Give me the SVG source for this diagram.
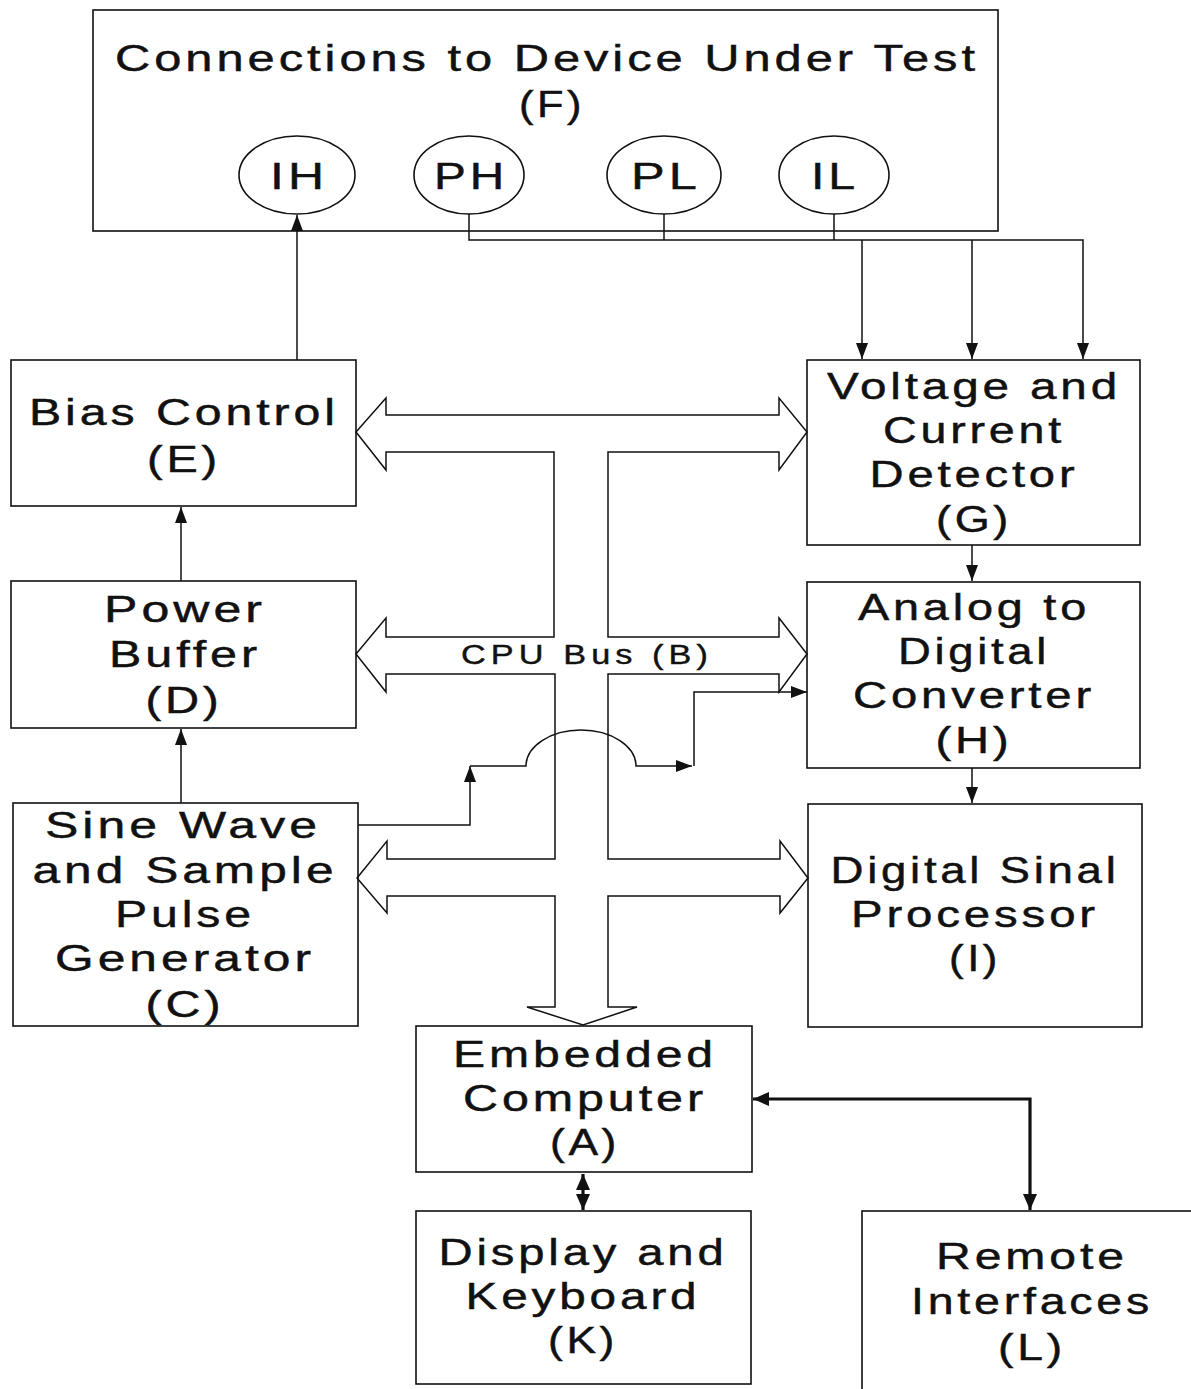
<svg xmlns="http://www.w3.org/2000/svg" width="1191" height="1389" viewBox="0 0 1191 1389">
<defs>
<style>
.box{fill:#fff;stroke:#111;stroke-width:1.6}
.t{font-family:"Liberation Sans",Arial,sans-serif;font-size:37px;letter-spacing:3px;fill:#111;stroke:#111;stroke-width:0.45;text-anchor:middle}
.bus{font-size:27px;letter-spacing:4px;stroke-width:0.4}
.ln{fill:none;stroke:#111;stroke-width:1.5}
.thick{fill:none;stroke:#111;stroke-width:3.2}
</style>
<marker id="ah" markerUnits="userSpaceOnUse" markerWidth="16" markerHeight="12" refX="16" refY="6" orient="auto-start-reverse">
<path d="M0,0 L16,6 L0,12 z" fill="#111"/>
</marker>
<marker id="ahb" markerUnits="userSpaceOnUse" markerWidth="16" markerHeight="14" refX="16" refY="7" orient="auto-start-reverse">
<path d="M0,0 L16,7 L0,14 z" fill="#111"/>
</marker>
</defs>
<rect width="1191" height="1389" fill="#fff"/>

<g id="F">
<rect class="box" x="93" y="10" width="905" height="221"/>
<text class="t" x="547" y="71" textLength="864" lengthAdjust="spacingAndGlyphs">Connections to Device Under Test</text>
<text class="t" x="552" y="117" textLength="66" lengthAdjust="spacingAndGlyphs">(F)</text>
</g>
<g id="IH"><ellipse class="box" cx="297" cy="175" rx="58" ry="39"/><text class="t" x="299" y="189" textLength="58" lengthAdjust="spacingAndGlyphs">IH</text></g>
<g id="PH"><ellipse class="box" cx="469" cy="175" rx="55" ry="39"/><text class="t" x="471" y="189" textLength="74" lengthAdjust="spacingAndGlyphs">PH</text></g>
<g id="PL"><ellipse class="box" cx="664" cy="175" rx="57" ry="39"/><text class="t" x="666" y="189" textLength="70" lengthAdjust="spacingAndGlyphs">PL</text></g>
<g id="IL"><ellipse class="box" cx="834" cy="175" rx="55" ry="39"/><text class="t" x="835" y="189" textLength="48" lengthAdjust="spacingAndGlyphs">IL</text></g>

<g id="E">
<rect class="box" x="11" y="360" width="345" height="146"/>
<text class="t" x="184" y="425" textLength="310" lengthAdjust="spacingAndGlyphs">Bias Control</text>
<text class="t" x="184" y="472" textLength="74" lengthAdjust="spacingAndGlyphs">(E)</text>
</g>
<g id="D">
<rect class="box" x="11" y="581" width="345" height="147"/>
<text class="t" x="185" y="622" textLength="162" lengthAdjust="spacingAndGlyphs">Power</text>
<text class="t" x="185" y="667" textLength="152" lengthAdjust="spacingAndGlyphs">Buffer</text>
<text class="t" x="184" y="713" textLength="77" lengthAdjust="spacingAndGlyphs">(D)</text>
</g>
<g id="C">
<rect class="box" x="13" y="803" width="345" height="223"/>
<text class="t" x="183" y="838" textLength="276" lengthAdjust="spacingAndGlyphs">Sine Wave</text>
<text class="t" x="185" y="883" textLength="305" lengthAdjust="spacingAndGlyphs">and Sample</text>
<text class="t" x="185" y="927" textLength="140" lengthAdjust="spacingAndGlyphs">Pulse</text>
<text class="t" x="185" y="971" textLength="260" lengthAdjust="spacingAndGlyphs">Generator</text>
<text class="t" x="185" y="1017" textLength="79" lengthAdjust="spacingAndGlyphs">(C)</text>
</g>
<g id="G">
<rect class="box" x="807" y="360" width="333" height="185"/>
<text class="t" x="974" y="399" textLength="294" lengthAdjust="spacingAndGlyphs">Voltage and</text>
<text class="t" x="974" y="443" textLength="182" lengthAdjust="spacingAndGlyphs">Current</text>
<text class="t" x="974" y="487" textLength="209" lengthAdjust="spacingAndGlyphs">Detector</text>
<text class="t" x="974" y="532" textLength="76" lengthAdjust="spacingAndGlyphs">(G)</text>
</g>
<g id="H">
<rect class="box" x="807" y="582" width="333" height="186"/>
<text class="t" x="974" y="620" textLength="232" lengthAdjust="spacingAndGlyphs">Analog to</text>
<text class="t" x="974" y="664" textLength="152" lengthAdjust="spacingAndGlyphs">Digital</text>
<text class="t" x="974" y="708" textLength="242" lengthAdjust="spacingAndGlyphs">Converter</text>
<text class="t" x="974" y="753" textLength="77" lengthAdjust="spacingAndGlyphs">(H)</text>
</g>
<g id="I">
<rect class="box" x="808" y="804" width="334" height="223"/>
<text class="t" x="975" y="883" textLength="289" lengthAdjust="spacingAndGlyphs">Digital Sinal</text>
<text class="t" x="975" y="927" textLength="248" lengthAdjust="spacingAndGlyphs">Processor</text>
<text class="t" x="975" y="971" textLength="52" lengthAdjust="spacingAndGlyphs">(I)</text>
</g>
<g id="A">
<rect class="box" x="416" y="1026" width="336" height="146"/>
<text class="t" x="585" y="1067" textLength="264" lengthAdjust="spacingAndGlyphs">Embedded</text>
<text class="t" x="585" y="1111" textLength="244" lengthAdjust="spacingAndGlyphs">Computer</text>
<text class="t" x="585" y="1155" textLength="70" lengthAdjust="spacingAndGlyphs">(A)</text>
</g>
<g id="K">
<rect class="box" x="416" y="1211" width="335" height="173"/>
<text class="t" x="583" y="1265" textLength="289" lengthAdjust="spacingAndGlyphs">Display and</text>
<text class="t" x="583" y="1309" textLength="235" lengthAdjust="spacingAndGlyphs">Keyboard</text>
<text class="t" x="583" y="1353" textLength="70" lengthAdjust="spacingAndGlyphs">(K)</text>
</g>
<g id="L">
<rect class="box" x="862" y="1211" width="400" height="260"/>
<text class="t" x="1032" y="1269" textLength="192" lengthAdjust="spacingAndGlyphs">Remote</text>
<text class="t" x="1032" y="1314" textLength="242" lengthAdjust="spacingAndGlyphs">Interfaces</text>
<text class="t" x="1032" y="1360" textLength="68" lengthAdjust="spacingAndGlyphs">(L)</text>
</g>

<g id="B">
<path class="ln" d="M386,415 H779 V398 L807,432 L779,470 V452 H608 V637 H779 V618 L807,654 L779,692 V674 H608 V859 H780 V841 L808,878 L780,913 V896 H608 V1007 H637 L583,1025 L527,1007 H555 V896 H387 V913 L357,878 L387,841 V859 H555 V674 H386 V692 L356,654 L386,618 V637 H554 V452 H386 V470 L356,432 L386,398 Z"/>
<text class="t bus" x="587" y="664" textLength="252" lengthAdjust="spacingAndGlyphs">CPU Bus (B)</text>
</g>

<g id="connectors">
<path class="ln" d="M297,360 V215" marker-end="url(#ah)"/>
<path class="ln" d="M469,214 V240 H1083 V359" marker-end="url(#ah)"/>
<path class="ln" d="M664,214 V240"/>
<path class="ln" d="M834,214 V240"/>
<path class="ln" d="M862,240 V359" marker-end="url(#ah)"/>
<path class="ln" d="M972,240 V359" marker-end="url(#ah)"/>
<path class="ln" d="M181,581 V507" marker-end="url(#ah)"/>
<path class="ln" d="M181,803 V729" marker-end="url(#ah)"/>
<path class="ln" d="M972,545 V581" marker-end="url(#ah)"/>
<path class="ln" d="M972,768 V803" marker-end="url(#ah)"/>
<path class="ln" d="M358,825 H470 V766" marker-end="url(#ah)"/>
<path class="ln" d="M470,766 H526 A55,36 0 0 1 636,766 H692" marker-end="url(#ah)"/>
<path class="ln" d="M694,766 V692 H807" marker-end="url(#ah)"/>
<path class="thick" d="M583,1174 V1210" marker-start="url(#ahb)" marker-end="url(#ahb)"/>
<path class="thick" d="M753,1099 H1030 V1210" marker-start="url(#ahb)" marker-end="url(#ahb)"/>
</g>
</svg>
